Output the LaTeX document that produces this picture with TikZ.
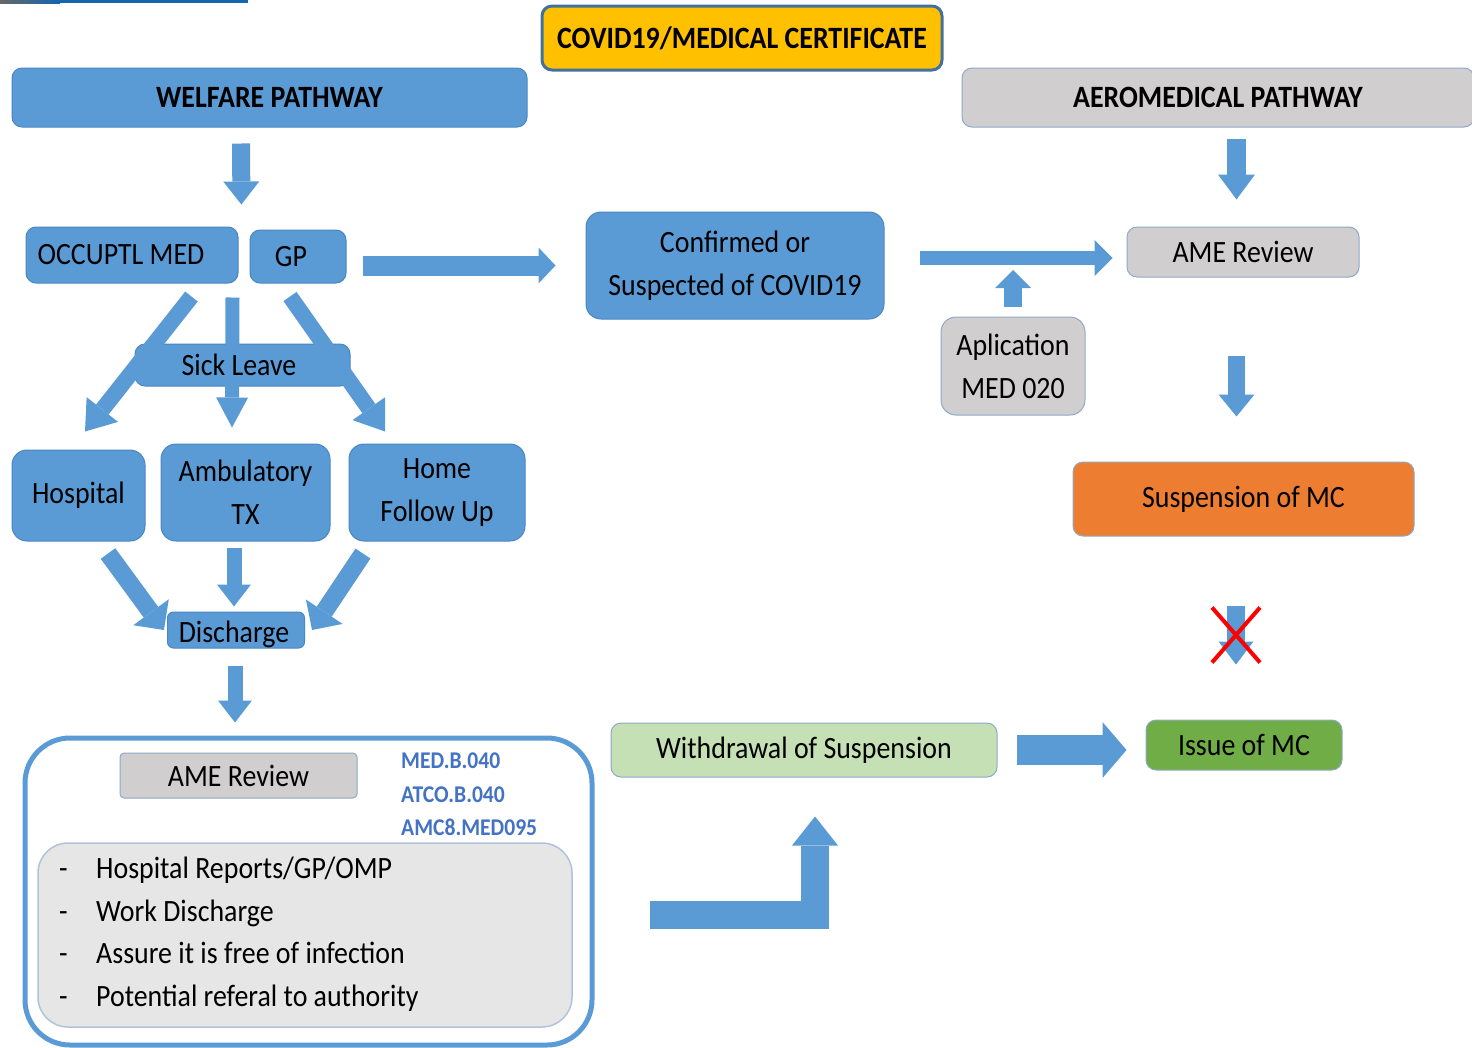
\documentclass[tikz,border=0pt]{standalone}
\usepackage{fontspec}
\setmainfont{Carlito}[FakeStretch=0.9]
\usetikzlibrary{arrows.meta,calc}
\definecolor{ablue}{HTML}{5B9BD5}
\definecolor{abluedk}{HTML}{4A86C2}
\definecolor{agray}{HTML}{D0CECE}
\definecolor{agrayln}{HTML}{8EA9C9}
\definecolor{ayellow}{HTML}{FFC000}
\definecolor{atitleln}{HTML}{41719C}
\definecolor{aorange}{HTML}{ED7D31}
\definecolor{alime}{HTML}{C5E0B4}
\definecolor{agreen}{HTML}{70AD47}
\definecolor{alist}{HTML}{E6E6E6}
\definecolor{acode}{HTML}{4472C4}
\definecolor{abar}{HTML}{1565B0}
\newcommand\dnfont{\fontsize{31}{43}\selectfont}
\newcommand\dhfont{\fontsize{31}{43}\selectfont\bfseries}
\newcommand\dcfont{\fontsize{24}{33}\selectfont\bfseries}
\tikzset{
  bb/.style={rectangle, rounded corners=10pt, fill=ablue, draw=abluedk, line width=1pt,
    inner sep=0pt, align=center, font=\dnfont, text=black},
  gb/.style={bb, fill=agray, draw=agrayln},
  barr/.style n args={3}{draw=ablue, line width=#1, line join=miter,
    -{Triangle[width=#2,length=#3,line width=0pt]}},
}
\begin{document}
\begin{tikzpicture}[x=1pt,y=-1pt]
\useasboundingbox (0,0) rectangle (1472,1047);
% top-left bar
\fill[abar] (0,0) rectangle (248,3);
\shade[left color=gray!80!black, right color=abar] (0,0) rectangle (60,3);

% headers
\node[bb, fill=ayellow, draw=atitleln, line width=3pt, font=\dhfont, minimum width=400pt, minimum height=64pt] (title) at (742,38) {COVID19/MEDICAL CERTIFICATE};
\node[bb, font=\dhfont, minimum width=515pt, minimum height=59pt] (welfare) at (269.5,97.5) {WELFARE PATHWAY};
\node[gb, font=\dhfont, minimum width=512pt, minimum height=59pt] (aero) at (1218,97.5) {AEROMEDICAL PATHWAY};

% welfare nodes
\node[bb, minimum width=212pt, minimum height=56pt] (occ) at (132,255) {\hspace*{-22pt}OCCUPTL MED};
\node[bb, minimum width=96pt, minimum height=53pt] (gp) at (298,256.5) {\hspace*{-14pt}GP};
\node[bb, rounded corners=15pt, minimum width=298pt, minimum height=107pt] (conf) at (735,265.5) {Confirmed or\\Suspected of COVID19};
\node[bb, minimum width=215pt, minimum height=42pt] (sick) at (242.5,365) {};
\node[bb, rounded corners=15pt, minimum width=133pt, minimum height=91pt] (hosp) at (78.5,495.5) {Hospital};
\node[bb, rounded corners=15pt, minimum width=169pt, minimum height=97pt] (amb) at (245.5,492.5) {Ambulatory\\TX};
\node[bb, rounded corners=15pt, minimum width=176pt, minimum height=97pt] (home) at (437,492.5) {Home\\Follow Up};
\node[bb, rounded corners=6pt, minimum width=137pt, minimum height=36pt] (disc) at (236,630) {};
\node[font=\dnfont, inner sep=0pt] (disct) at (234,634) {Discharge};

% aeromedical nodes
\node[gb, minimum width=232pt, minimum height=50pt] (ame1) at (1243,252) {AME Review};
\node[gb, rounded corners=15pt, minimum width=144pt, minimum height=98pt] (apl) at (1013,366) {Aplication\\MED 020};
\node[gb, fill=aorange, minimum width=341pt, minimum height=74pt] (susp) at (1243.5,499) {Suspension of MC};
\node[gb, fill=agreen, minimum width=196pt, minimum height=50pt] (issue) at (1244,745) {Issue of MC};
\node[gb, fill=alime, minimum width=386pt, minimum height=54pt] (withd) at (804,750) {Withdrawal of Suspension};

% bottom box
\node[rectangle, rounded corners=45pt, draw=ablue, line width=5pt, fill=white, minimum width=567pt, minimum height=307pt] (bigbox) at (308.5,891.5) {};
\node[gb, rounded corners=4pt, minimum width=237pt, minimum height=45pt] (ame2) at (238.5,775.5) {AME Review};
\node[font=\dcfont, text=acode, anchor=west, inner sep=0pt] (c1) at (401,761) {MED.B.040};
\node[font=\dcfont, text=acode, anchor=west, inner sep=0pt] (c2) at (401,795) {ATCO.B.040};
\node[font=\dcfont, text=acode, anchor=west, inner sep=0pt] (c3) at (401,827) {AMC8.MED095};
\node[rectangle, rounded corners=30pt, fill=alist, draw=agrayln!70, line width=1.5pt, minimum width=534pt, minimum height=184pt] (listbox) at (305,935) {};
\foreach \i/\t/\y in {1/Hospital Reports\slash GP\slash OMP/878, 2/Work Discharge/921, 3/Assure it is free of infection/963, 4/Potential referal to authority/1006}{
  \node[font=\dnfont, anchor=base west, inner sep=0pt] (dash\i) at (59,\y) {-};
  \node[font=\dnfont, anchor=base west, inner sep=0pt] (item\i) at (96,\y) {\t};
}

% arrows: welfare pathway
\draw[barr={18pt}{36pt}{23pt}, shorten <=16pt, shorten >=22pt] ($(welfare.south)+(-28.5,0)$) -- ($(occ.north east)+(3,0)$);
\draw[barr={20pt}{36pt}{17pt}, shorten <=16pt, shorten >=30pt] (gp.east |- conf.west) -- (conf.west);
\draw[barr={16pt}{40pt}{28pt}] ($(occ.south east)+(-47,13)$) -- ($(hosp.north)+(6.5,-18)$);
\draw[barr={14pt}{32pt}{30pt}] ($(occ.south east)+(-6,14)$) -- ($(amb.north)+(-13.5,-16)$);
\draw[barr={16pt}{40pt}{28pt}] ($(gp.south)+(-8,13)$) -- ($(home.north)+(-52,-12)$);
\node[font=\dnfont, inner sep=0pt] (sickt) at (239,365) {Sick Leave};
\draw[barr={18pt}{44pt}{22pt}] ($(hosp.south)+(29.5,12)$) -- ($(disc.west)+(-3,0)$);
\draw[barr={15pt}{34pt}{22pt}] ($(amb.south)+(-11.5,6)$) -- ($(disc.north)+(-2,-5)$);
\draw[barr={18pt}{44pt}{22pt}] ($(home.south)+(-74,12)$) -- ($(disc.east)+(7,0)$);
\draw[barr={15pt}{34pt}{22pt}, shorten <=17pt, shorten >=13pt] ($(disc.south)+(-1,0)$) -- ($(disc.south |- bigbox.north)+(-1,0)$);

% arrows: aeromedical pathway
\coordinate (c5) at ($(ame1.north)+(-6.5,0)$);
\draw[barr={19pt}{37pt}{25pt}, shorten <=11pt, shorten >=27pt] (aero.south -| c5) -- (c5);
\draw[barr={14pt}{36pt}{18pt}, shorten <=35pt, shorten >=14pt] ($(conf.east)+(0,-7.5)$) -- ($(ame1.west)+(0,6)$);
\coordinate (merge) at (1013,270);
\draw[barr={18pt}{36pt}{18pt}, shorten <=10pt] (apl.north) -- (merge);
\draw[barr={17pt}{36pt}{22pt}, shorten <=78pt, shorten >=45pt] ($(ame1.south)+(-6.5,0)$) -- ($(susp.north)+(-7,0)$);
\draw[barr={18pt}{35pt}{23pt}, shorten <=69pt, shorten >=55pt] ($(susp.south)+(-7.5,0)$) -- ($(issue.north)+(-8,0)$);
\coordinate (xc) at (1236,634.5);
\draw[red, line width=4pt] ($(xc)+(-24,-27)$) -- ($(xc)+(24,28)$);
\draw[red, line width=4pt] ($(xc)+(24,-27)$) -- ($(xc)+(-24,28)$);
\draw[barr={30pt}{56pt}{24pt}, shorten <=19pt, shorten >=19pt] (withd.east) -- (issue.west |- withd.east);
\draw[barr={28pt}{46pt}{29pt}, shorten >=39pt] ($(bigbox.east)+(55,23.5)$) -| ($(withd.south)+(11,0)$);
\end{tikzpicture}
\end{document}
